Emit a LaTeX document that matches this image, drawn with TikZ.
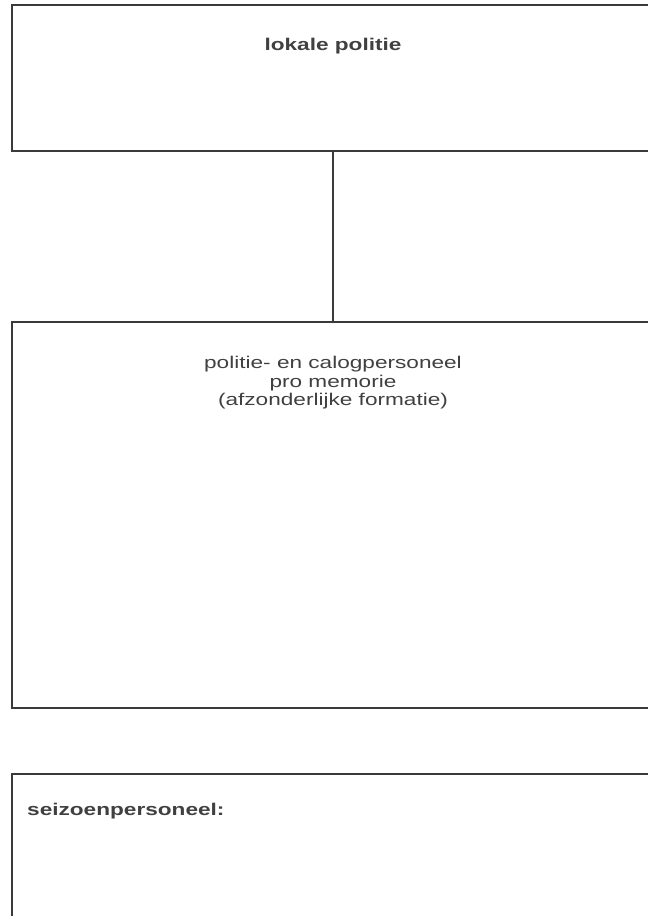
\documentclass[tikz,border=0pt]{standalone}
\usepackage{fontspec}
\newfontfamily\orgfont[FakeStretch=1.33]{Liberation Sans}
\usetikzlibrary{positioning}
\definecolor{lijn}{HTML}{3A3A3A}
\definecolor{tekst}{HTML}{404040}

\begin{document}
\begin{tikzpicture}[x=1pt,y=-1pt,
    vak/.style={draw=lijn,line width=2pt,minimum width=642pt,inner sep=0pt},
    verbinding/.style={draw=lijn,line width=2pt},
    kop/.style={text=tekst,font=\orgfont\fontsize{17}{18.5}\selectfont\bfseries,inner sep=0pt},
    gewoon/.style={text=tekst,font=\orgfont\fontsize{17}{18.5}\selectfont,align=center,inner sep=0pt}]
    \useasboundingbox (0,0) rectangle (648,916);
    \clip (0,0) rectangle (648,916);
    \node[vak,minimum height=146pt] (politie) at (333,78) {};
    \node[vak,minimum height=386pt] (personeel) at (333,515) {};
    \node[vak,minimum height=240pt,anchor=north] (seizoen) at (333,773) {};
    \draw[verbinding] (politie) -- (personeel);
    \node[kop,anchor=base] (politietitel) at (333,50) {lokale politie};
    \node[gewoon,anchor=north] (personeeltitel) at (333,356) {politie- en calogpersoneel\\pro memorie\\(afzonderlijke formatie)};
    \node[kop,anchor=base west] (seizoentitel) at (27,815) {seizoenpersoneel:};
\end{tikzpicture}
\end{document}
